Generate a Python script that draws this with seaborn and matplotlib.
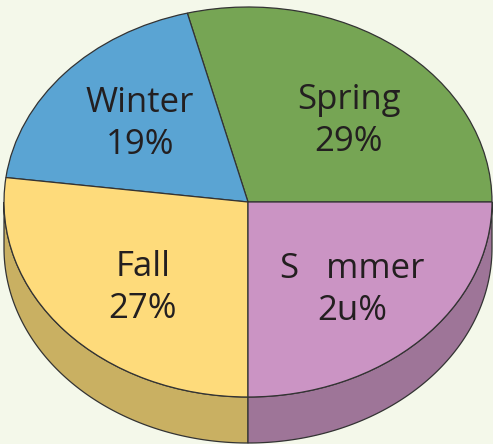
import numpy as np
import matplotlib
matplotlib.use("Agg")
import matplotlib.pyplot as plt
import seaborn as sns

seasons = ["Spring", "Winter", "Fall", "Summer"]
shares = [29, 19, 27, 25]
label_names = ["Spring", "Winter", "Fall", "S   mmer"]
label_pcts = ["29%", "19%", "27%", "2u%"]
top_colors = ["#76a554", "#5aa4d3", "#fedb7b", "#cb94c4"]
side_colors = [None, None, "#c9b062", "#9e7598"]

sns.set_style("white")
plt.rcParams["font.family"] = ["Open Sans", "DejaVu Sans"]

bg = "#f4f8ea"
W, H = 493, 444
fig = plt.figure(figsize=(W / 100, H / 100), dpi=100, facecolor=bg)
ax = fig.add_axes([0, 0, 1, 1])
ax.set_facecolor(bg)

# ellipse geometry in pixels
cx, cy, rx, ry, depth = 248, 202, 244, 195, 46
d = depth / ry

# side walls for the front half
edges = np.cumsum([0] + shares) / 100 * 360
for i in range(len(shares)):
    a0, a1 = max(edges[i], 180), edges[i + 1]
    if a1 <= 180 or side_colors[i] is None:
        continue
    t = np.radians(np.linspace(a0, a1, 100))
    xs = np.concatenate([np.cos(t), np.cos(t[::-1])])
    ys = np.concatenate([np.sin(t), np.sin(t[::-1]) - d])
    ax.fill(xs, ys, facecolor=side_colors[i], edgecolor="#333333", linewidth=0.9, zorder=1)

ax.pie(shares, colors=top_colors, startangle=0, counterclock=True, radius=1,
       wedgeprops=dict(edgecolor="#333333", linewidth=0.9), normalize=True)
ax.set_aspect("auto")
ax.set_xlim((0 - cx) / rx, (W - cx) / rx)
ax.set_ylim((cy - H) / ry, cy / ry)

# label centres, measured in pixels
label_px = [(349, 121), (140, 124), (143, 288), (352, 290)]
for (px, py), nm, pc in zip(label_px, label_names, label_pcts):
    ax.text((px - cx) / rx, (cy - py) / ry, nm + "\n" + pc, ha="center", va="center",
            fontsize=25, color="#231f20", linespacing=1.28, zorder=5)

ax.axis("off")
fig.savefig("out.png", dpi=100, facecolor=bg)
